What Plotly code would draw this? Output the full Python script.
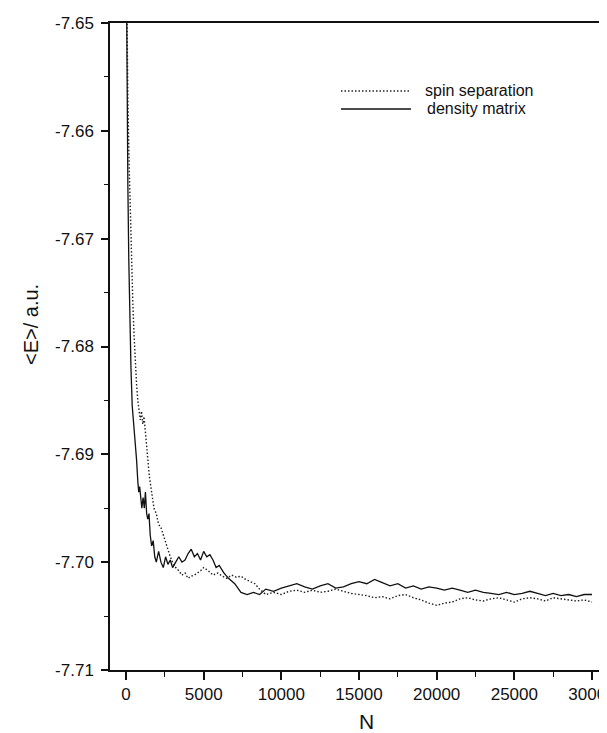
import plotly.graph_objects as go

# density matrix (solid)
dm_N = [0, 60, 120, 180, 250, 320, 400, 480, 520, 600, 680, 760, 820, 880, 950, 1020,
        1100, 1180, 1250, 1330, 1400, 1480, 1560, 1650, 1750, 1850, 1950, 2100, 2250,
        2400, 2550, 2700, 2850, 3000, 3200, 3400, 3600, 3800, 4000, 4200, 4400, 4600,
        4800, 5000, 5200, 5400, 5600, 5800, 6000, 6300, 6600, 7000, 7400, 7800, 8200,
        8600, 9000, 9500, 10000, 10500, 11000, 11500, 12000, 12500, 13000, 13500, 14000,
        14500, 15000, 15500, 16000, 16500, 17000, 17500, 18000, 18500, 19000, 19500,
        20000, 20500, 21000, 21500, 22000, 22500, 23000, 23500, 24000, 24500, 25000,
        25500, 26000, 26500, 27000, 27500, 28000, 28500, 29000, 29500, 30000]
dm_E = [-7.640, -7.655, -7.665, -7.672, -7.678, -7.682, -7.6855, -7.6868, -7.6875,
        -7.6885, -7.6905, -7.6925, -7.6935, -7.6930, -7.6945, -7.6950, -7.6940, -7.6950,
        -7.6935, -7.6955, -7.6960, -7.6955, -7.6975, -7.6985, -7.6980, -7.6995, -7.7000,
        -7.6990, -7.7000, -7.7005, -7.6995, -7.7002, -7.6998, -7.7005, -7.7000, -7.6995,
        -7.7000, -7.6998, -7.6992, -7.6988, -7.6995, -7.6992, -7.6998, -7.6990, -7.6995,
        -7.6993, -7.6998, -7.7005, -7.7003, -7.7010, -7.7015, -7.7020, -7.7028, -7.7030,
        -7.7028, -7.7030, -7.7025, -7.7027, -7.7024, -7.7022, -7.7020, -7.7023, -7.7025,
        -7.7022, -7.7020, -7.7024, -7.7023, -7.7020, -7.7018, -7.7020, -7.7016, -7.7019,
        -7.7022, -7.7020, -7.7024, -7.7022, -7.7025, -7.7023, -7.7024, -7.7026, -7.7024,
        -7.7026, -7.7028, -7.7026, -7.7028, -7.7029, -7.7030, -7.7028, -7.7030, -7.7029,
        -7.7027, -7.7029, -7.7031, -7.7029, -7.7031, -7.7030, -7.7032, -7.7030, -7.7030]

# spin separation (dotted)
ss_N = [0, 60, 120, 200, 280, 360, 440, 520, 600, 680, 760, 840, 920, 1000, 1080, 1160,
        1240, 1320, 1400, 1500, 1600, 1700, 1800, 1950, 2100, 2250, 2400, 2550, 2700,
        2850, 3000, 3200, 3400, 3600, 3800, 4000, 4200, 4400, 4600, 4800, 5000, 5300,
        5600, 5900, 6200, 6500, 6800, 7100, 7400, 7700, 8000, 8300, 8600, 9000, 9500,
        10000, 10500, 11000, 11500, 12000, 12500, 13000, 13500, 14000, 14500, 15000,
        15500, 16000, 16500, 17000, 17500, 18000, 18500, 19000, 19500, 20000, 20500,
        21000, 21500, 22000, 22500, 23000, 23500, 24000, 24500, 25000, 25500, 26000,
        26500, 27000, 27500, 28000, 28500, 29000, 29500, 30000]
ss_E = [-7.640, -7.650, -7.657, -7.663, -7.668, -7.672, -7.676, -7.679, -7.6815, -7.6835,
        -7.6850, -7.6862, -7.6868, -7.6860, -7.6872, -7.6865, -7.6880, -7.6895, -7.6905,
        -7.6920, -7.6930, -7.6940, -7.6950, -7.6955, -7.6965, -7.6968, -7.6975, -7.6980,
        -7.6988, -7.6995, -7.7000, -7.7005, -7.7008, -7.7012, -7.7010, -7.7015, -7.7013,
        -7.7012, -7.7010, -7.7008, -7.7005, -7.7008, -7.7012, -7.7010, -7.7013, -7.7015,
        -7.7012, -7.7014, -7.7013, -7.7016, -7.7018, -7.7020, -7.7025, -7.7030, -7.7028,
        -7.7030, -7.7027, -7.7026, -7.7028, -7.7026, -7.7028, -7.7027, -7.7025, -7.7027,
        -7.7029, -7.7030, -7.7031, -7.7033, -7.7032, -7.7034, -7.7031, -7.7030, -7.7033,
        -7.7035, -7.7038, -7.7040, -7.7038, -7.7037, -7.7034, -7.7033, -7.7035, -7.7036,
        -7.7034, -7.7033, -7.7035, -7.7037, -7.7034, -7.7033, -7.7034, -7.7036, -7.7033,
        -7.7034, -7.7035, -7.7036, -7.7035, -7.7037]

x_ticks = [0, 5000, 10000, 15000, 20000, 25000, 30000]
x_tick_labels = ["0", "5000", "10000", "15000", "20000", "25000", "30000"]
y_ticks = [-7.65, -7.66, -7.67, -7.68, -7.69, -7.70, -7.71]
y_tick_labels = ["-7.65", "-7.66", "-7.67", "-7.68", "-7.69", "-7.70", "-7.71"]
legend_labels = ["spin separation", "density matrix"]

FONT = "Liberation Sans, Arial, sans-serif"
DOTS = "1.5px,2px"

fig = go.Figure()
fig.add_trace(go.Scatter(x=ss_N, y=ss_E, mode="lines", name=legend_labels[0],
                         line=dict(color="#222", width=1.4, dash=DOTS)))
fig.add_trace(go.Scatter(x=dm_N, y=dm_E, mode="lines", name=legend_labels[1],
                         line=dict(color="#111", width=1.3)))

fig.update_layout(
    width=607, height=733,
    margin=dict(l=102, r=0, t=15, b=71),
    paper_bgcolor="white", plot_bgcolor="white",
    showlegend=False,
    font=dict(family=FONT, size=17, color="#111"),
    xaxis=dict(range=[-1030, 31480], tickvals=x_ticks, ticktext=x_tick_labels,
               ticks="outside", ticklen=8, ticklabeloverflow="allow",
               tickwidth=1.5, tickcolor="#111", showline=True, linecolor="#111",
               linewidth=1.5, mirror=True, showgrid=False, zeroline=False,
               minor=dict(dtick=2500, tick0=0, ticks="outside", ticklen=5,
                          tickwidth=1.2, tickcolor="#111", showgrid=False),
               tickfont=dict(size=17)),
    yaxis=dict(range=[-7.71, -7.65], tickvals=y_ticks, ticktext=y_tick_labels,
               ticks="outside", ticklen=7, tickwidth=1.5, tickcolor="#111",
               ticklabelstandoff=4,
               showline=True, linecolor="#111", linewidth=1.5, mirror=False,
               showgrid=False, zeroline=False,
               minor=dict(dtick=0.005, tick0=-7.65, ticks="outside", ticklen=4,
                          tickwidth=1.2, tickcolor="#111", showgrid=False),
               tickfont=dict(size=17)),
)

# legend drawn manually (line samples + labels)
fig.add_shape(type="line", xref="paper", yref="paper", x0=0.4574, x1=0.5960,
              y0=0.8949, y1=0.8949, line=dict(color="#222", width=1.3, dash=DOTS))
fig.add_shape(type="line", xref="paper", yref="paper", x0=0.4574, x1=0.5960,
              y0=0.8671, y1=0.8671, line=dict(color="#111", width=1.3))
fig.add_annotation(text=legend_labels[0], xref="paper", yref="paper", x=0.620, y=0.8949,
                   xanchor="left", yanchor="middle", showarrow=False,
                   font=dict(size=16, family=FONT, color="#111"))
fig.add_annotation(text=legend_labels[1], xref="paper", yref="paper", x=0.623, y=0.8671,
                   xanchor="left", yanchor="middle", showarrow=False,
                   font=dict(size=16, family=FONT, color="#111"))

# axis titles
fig.add_annotation(text="&lt;E&gt;/ a.u.", xref="paper", yref="paper", x=-0.1564, y=0.5332,
                   xanchor="center", yanchor="middle", textangle=-90, showarrow=False,
                   font=dict(size=20, family=FONT, color="#111"))
fig.add_annotation(text="N", xref="paper", yref="paper", x=0.507, y=-0.079,
                   xanchor="center", yanchor="middle", showarrow=False,
                   font=dict(size=21, family=FONT, color="#111"))

fig.write_html("out.html")
